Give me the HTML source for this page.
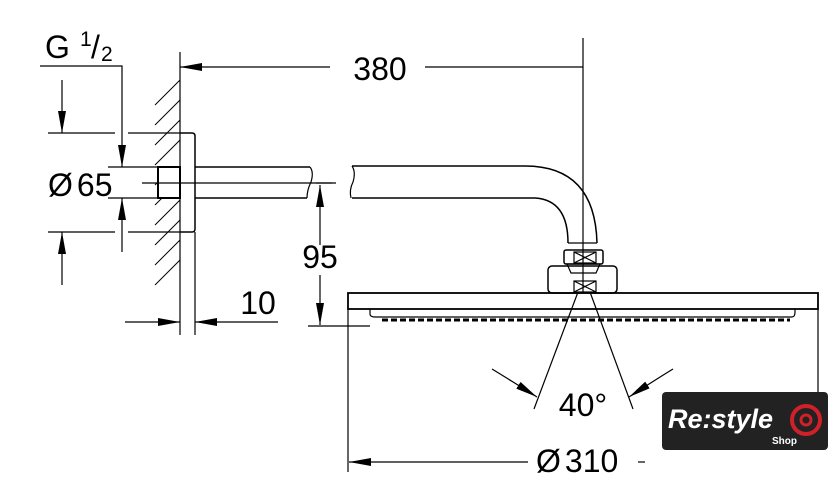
<!DOCTYPE html>
<html><head><style>body{margin:0;background:#fff}svg{display:block}</style></head><body>
<svg width="840" height="498" viewBox="0 0 840 498" xmlns="http://www.w3.org/2000/svg" font-family="Liberation Sans, sans-serif">
<defs>
<marker id="a" viewBox="0 0 22 8" refX="22" refY="4" markerWidth="22" markerHeight="8" orient="auto" markerUnits="userSpaceOnUse"><path d="M0,0 L22,4 L0,8 Z" fill="#000"/></marker>
</defs>
<g stroke="#000" stroke-width="1.2" fill="none">
<line x1="180" y1="52" x2="180" y2="335"/>
<g stroke-width="1">
<line x1="155" y1="105" x2="180" y2="80"/><line x1="155" y1="125" x2="180" y2="100"/><line x1="155" y1="145" x2="180" y2="120"/><line x1="155" y1="165" x2="180" y2="140"/><line x1="155" y1="185" x2="160" y2="180"/><line x1="155" y1="205" x2="180" y2="180"/><line x1="155" y1="225" x2="180" y2="200"/><line x1="155" y1="245" x2="180" y2="220"/><line x1="155" y1="265" x2="180" y2="240"/><line x1="155" y1="285" x2="180" y2="260"/>
</g>
<path d="M180,133 H192 Q195,133 195,136 V229 Q195,232 192,232 H180" stroke-width="1.5"/>
<rect x="158" y="167" width="22" height="31" stroke-width="2" fill="#fff"/>
<line x1="195" y1="167" x2="310" y2="167" stroke-width="1.5"/>
<line x1="195" y1="198" x2="307" y2="198" stroke-width="1.5"/>
<path d="M310,167 Q314,172 311,182 Q307,190 307,198"/>
<line x1="142" y1="183" x2="336" y2="183"/>
<path d="M352,166 H525 Q595,166 597,243" stroke-width="1.5"/>
<path d="M352,198 H535 Q568,200 568,243" stroke-width="1.5"/>
<path d="M352,166 Q356,172 353,182 Q349,190 351,198"/>
<line x1="568" y1="243" x2="597" y2="243"/>
<rect x="564" y="250" width="39" height="14" rx="2" stroke-width="1.5"/>
<path d="M567,264 L600,264 L596,273 L571,273 Z"/>
<rect x="548" y="266" width="69" height="27" rx="4" stroke-width="1.5"/>
<rect x="574" y="252" width="22" height="11"/><path d="M574,252 L596,263 M596,252 L574,263"/>
<rect x="574" y="281" width="22" height="11"/><path d="M574,281 L596,292 M596,281 L574,292"/>
<rect x="348" y="293" width="470" height="16" stroke-width="1.8"/>
<path d="M370,309 V314 Q370,317 375,317 H792 Q795,317 795,312 V309" stroke-width="1.2"/>
<path d="M382,320 H790" stroke-width="3" stroke-dasharray="6,3"/>
<line x1="348" y1="309" x2="348" y2="472"/>
<line x1="818" y1="309" x2="818" y2="392"/>
<line x1="583" y1="38" x2="583" y2="293"/>
<line x1="425" y1="67" x2="583" y2="67"/>
<line x1="330" y1="67" x2="180" y2="67" marker-end="url(#a)"/>
<line x1="320" y1="245" x2="320" y2="185" marker-end="url(#a)"/>
<line x1="320" y1="275" x2="320" y2="325" marker-end="url(#a)"/>
<line x1="308" y1="326" x2="370" y2="326"/>
<line x1="332" y1="183" x2="316" y2="183"/>
<line x1="125" y1="322" x2="180" y2="322" marker-end="url(#a)"/>
<line x1="278" y1="322" x2="195" y2="322" marker-end="url(#a)"/>
<line x1="195" y1="232" x2="195" y2="335"/>
<line x1="48" y1="133" x2="115" y2="133"/><line x1="128" y1="133" x2="180" y2="133"/>
<line x1="48" y1="232" x2="115" y2="232"/><line x1="128" y1="232" x2="180" y2="232"/>
<line x1="62" y1="80" x2="62" y2="133" marker-end="url(#a)"/>
<line x1="62" y1="285" x2="62" y2="232" marker-end="url(#a)"/>
<path d="M40,66 H122 V167" marker-end="url(#a)"/>
<line x1="122" y1="252" x2="122" y2="198" marker-end="url(#a)"/>
<line x1="108" y1="167" x2="158" y2="167"/><line x1="108" y1="198" x2="158" y2="198"/>
<line x1="578" y1="292" x2="534" y2="409"/>
<line x1="590" y1="292" x2="633" y2="409"/>
<path d="M492,369 Q510,380 537,397" marker-end="url(#a)"/>
<path d="M673,369 Q655,380 629,397" marker-end="url(#a)"/>
<line x1="528" y1="462" x2="349" y2="462" marker-end="url(#a)"/>
<line x1="638" y1="462" x2="645" y2="462"/>
</g>
<g font-size="32" fill="#000">
<text x="380" y="80" text-anchor="middle">380</text>
<text x="320" y="268" text-anchor="middle">95</text>
<text x="258" y="314" text-anchor="middle">10</text>
<text x="48" y="196">Ø<tspan dx="4">65</tspan></text>
<text x="45" y="58">G</text><text x="80" y="46" font-size="21">1</text><text x="91" y="58">/</text><text x="101" y="61" font-size="21">2</text>
<text x="583" y="416" text-anchor="middle">40°</text>
<text x="536" y="472">Ø<tspan dx="4">310</tspan></text>
</g>
<rect x="662" y="392" width="166" height="58" rx="4" fill="#222"/>
<text x="668" y="428" font-size="27" font-style="italic" font-weight="bold" fill="#fff">Re:style</text>
<text x="772" y="444" font-size="10" fill="#fff" font-weight="bold">Shop</text>
<circle cx="806" cy="420" r="14" fill="none" stroke="#d0202a" stroke-width="4"/>
<circle cx="806" cy="420" r="5" fill="none" stroke="#d0202a" stroke-width="3"/>
</svg>
</body></html>
